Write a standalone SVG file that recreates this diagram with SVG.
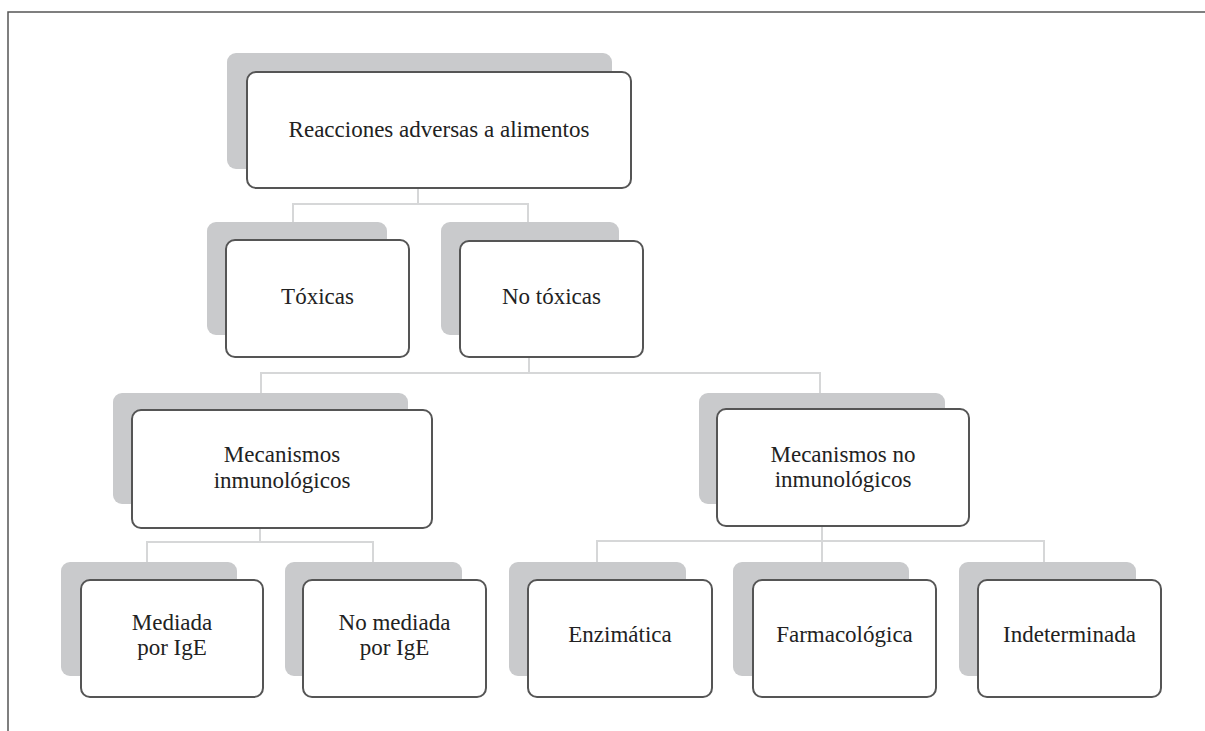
<svg xmlns="http://www.w3.org/2000/svg" width="1205" height="731" viewBox="0 0 1205 731">
<style>
.frame{fill:none;stroke:#555;stroke-width:1.5}
.sh{fill:#c9cacc}
.bx{fill:#fff;stroke:#555;stroke-width:2}
.cn{fill:none;stroke:#d6d7d8;stroke-width:2}
text{font-family:"Liberation Serif","Times New Roman",serif;font-size:23px;fill:#222;text-anchor:middle}
</style>
<rect width="1205" height="731" fill="#fff"/>
<path class="frame" d="M8,731 V12 H1205"/>
<g id="connectors">
<path class="cn" d="M418,188 V204 M293,222 V204 H528 V222"/>
<path class="cn" d="M529,357 V373 M261,393 V373 H820 V393"/>
<path class="cn" d="M260,528 V542 M147,562 V542 H373 V562"/>
<path class="cn" d="M822,526 V541 M597,562 V541 H1044 V562 M822,541 V562"/>
</g>
<g id="n-root">
<rect class="sh" x="227" y="53" width="385" height="116" rx="9"/>
<rect class="bx" x="247" y="72" width="384" height="116" rx="9"/>
<text x="439" y="137">Reacciones adversas a alimentos</text>
</g>
<g id="n-toxicas">
<rect class="sh" x="207" y="222" width="180" height="113" rx="9"/>
<rect class="bx" x="226" y="240" width="183" height="117" rx="9"/>
<text x="317.5" y="304">Tóxicas</text>
</g>
<g id="n-notoxicas">
<rect class="sh" x="441" y="222" width="178" height="113" rx="9"/>
<rect class="bx" x="460" y="241" width="183" height="116" rx="9"/>
<text x="551.5" y="304">No tóxicas</text>
</g>
<g id="n-mecinm">
<rect class="sh" x="113" y="393" width="295" height="111" rx="9"/>
<rect class="bx" x="132" y="410" width="300" height="118" rx="9"/>
<text x="282" y="462">Mecanismos</text>
<text x="282" y="488">inmunológicos</text>
</g>
<g id="n-mecnoinm">
<rect class="sh" x="699" y="393" width="246" height="111" rx="9"/>
<rect class="bx" x="717" y="409" width="252" height="117" rx="9"/>
<text x="843" y="462">Mecanismos no</text>
<text x="843" y="487">inmunológicos</text>
</g>
<g id="n-mediada">
<rect class="sh" x="61" y="562" width="176" height="114" rx="9"/>
<rect class="bx" x="81" y="580" width="182" height="117" rx="9"/>
<text x="172" y="630">Mediada</text>
<text x="172" y="655">por IgE</text>
</g>
<g id="n-nomediada">
<rect class="sh" x="285" y="562" width="177" height="114" rx="9"/>
<rect class="bx" x="303" y="580" width="183" height="117" rx="9"/>
<text x="394.5" y="630">No mediada</text>
<text x="394.5" y="655">por IgE</text>
</g>
<g id="n-enzimatica">
<rect class="sh" x="509" y="562" width="177" height="114" rx="9"/>
<rect class="bx" x="528" y="580" width="184" height="117" rx="9"/>
<text x="620" y="642">Enzimática</text>
</g>
<g id="n-farmacologica">
<rect class="sh" x="733" y="562" width="176" height="114" rx="9"/>
<rect class="bx" x="753" y="580" width="183" height="117" rx="9"/>
<text x="844.5" y="642">Farmacológica</text>
</g>
<g id="n-indeterminada">
<rect class="sh" x="959" y="562" width="177" height="114" rx="9"/>
<rect class="bx" x="978" y="580" width="183" height="117" rx="9"/>
<text x="1069.5" y="642">Indeterminada</text>
</g>
</svg>
